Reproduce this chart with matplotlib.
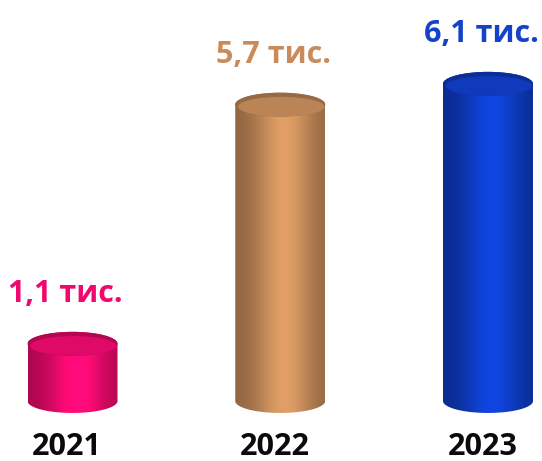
import matplotlib
matplotlib.use("Agg")
import matplotlib.pyplot as plt
import numpy as np
from matplotlib.path import Path
from matplotlib.patches import PathPatch, Ellipse
from matplotlib.colors import to_rgb

years = ['2021', '2022', '2023']
values = [1.1, 5.7, 6.1]
value_labels = ['1,1 тис.', '5,7 тис.', '6,1 тис.']
bar_colors = ['#F80A72', '#D0935F', '#0F40D0']
text_colors = ['#F2076E', '#C98B5B', '#1442C8']

plt.rcParams['font.family'] = ['Open Sans', 'DejaVu Sans']

fig = plt.figure(figsize=(5.42, 4.61), dpi=100)
ax = fig.add_axes([0, 0, 1, 1])
ax.set_xlim(-0.349, 2.26)
ax.set_ylim(-1.154, 7.712)
ax.axis('off')

half_w = 0.2166   # half width of a cylinder, x units
ell_h = 0.23      # half height of the end ellipses, y units


def shade(color, n=200):
    # horizontal light: dark rims, highlight a bit right of centre
    t = np.linspace(0, 1, n)
    light = 0.68 + 0.4 * np.exp(-((t - 0.55) / 0.32) ** 2)
    rgb = np.array(to_rgb(color))
    row = np.clip(rgb[None, :] * light[:, None], 0, 1)
    return row[None, :, :]


def cylinder(x, v, color):
    th = np.linspace(np.pi, 2 * np.pi, 60)
    bottom = np.c_[x + half_w * np.cos(th), ell_h * np.sin(th)]
    th2 = np.linspace(0, np.pi, 60)
    top = np.c_[x + half_w * np.cos(th2), v + ell_h * np.sin(th2)]
    verts = np.vstack([[x - half_w, v], bottom, [x + half_w, v], top])
    path = Path(verts, closed=False)
    patch = PathPatch(path, facecolor='none', edgecolor='none')
    ax.add_patch(patch)
    img = ax.imshow(shade(color), extent=(x - half_w, x + half_w, -ell_h, v + ell_h),
                    aspect='auto', zorder=2, interpolation='bilinear')
    img.set_clip_path(patch)
    rgb = np.array(to_rgb(color))
    # top face: darker rim at the back, lighter towards the front
    ax.add_patch(Ellipse((x, v), 2 * half_w, 2 * ell_h, facecolor=rgb * 0.72,
                         edgecolor='none', zorder=3))
    ax.add_patch(Ellipse((x + 0.005, v - 0.04), 2 * half_w * 0.96, 2 * ell_h * 0.82,
                         facecolor=np.clip(rgb * 0.9, 0, 1), edgecolor='none', zorder=3))


for i, v in enumerate(values):
    cylinder(i, v, bar_colors[i])
    ax.annotate(value_labels[i], xy=(i, v), xytext=(-5, 36), textcoords='offset points',
                ha='center', va='center', fontsize=22, fontweight='bold',
                color=text_colors[i])
    ax.annotate(years[i], xy=(i, 0), xytext=(-4, -33), textcoords='offset points',
                ha='center', va='center', fontsize=22, fontweight='bold',
                color='#0a0a0a')

fig.savefig('out.png', dpi=100, facecolor='white')
